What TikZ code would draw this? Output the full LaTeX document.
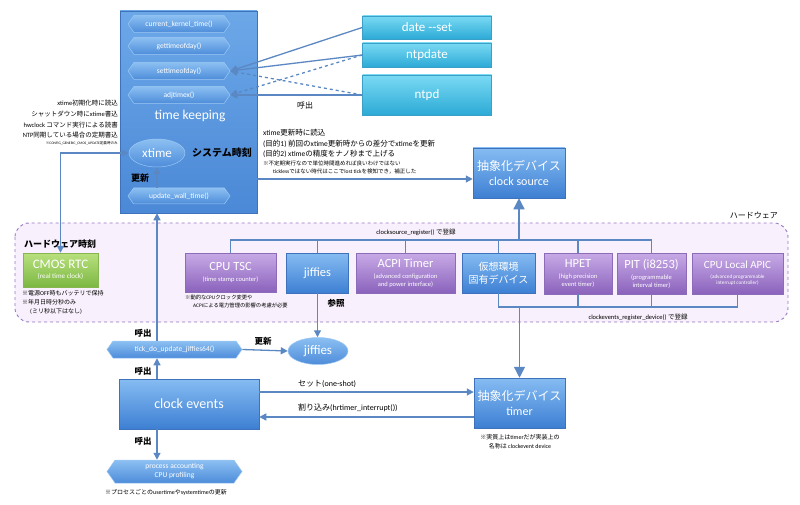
\documentclass[tikz,border=0pt]{standalone}
\usepackage{fontspec}
\setmainfont{Carlito}
\newfontfamily\jp{Noto Sans CJK JP}
\newcommand{\jj}[1]{{\jp #1}}
\usetikzlibrary{shapes.symbols,shapes.geometric,arrows.meta}
\definecolor{lnc}{HTML}{5B88C2}
\definecolor{bT}{HTML}{86BCF2}
\definecolor{bB}{HTML}{3D7FD3}
\definecolor{bD}{HTML}{3E73BC}
\definecolor{tkT}{HTML}{6CA8E8}
\definecolor{tkB}{HTML}{4B88D6}
\definecolor{hxT}{HTML}{8CC0F2}
\definecolor{hxB}{HTML}{4D8CDA}
\definecolor{hxD}{HTML}{9CC8F4}
\definecolor{cyT}{HTML}{7ADAF4}
\definecolor{cyB}{HTML}{2CAAD6}
\definecolor{cyD}{HTML}{3AA0C8}
\definecolor{puT}{HTML}{C8AAE6}
\definecolor{puB}{HTML}{8A62BC}
\definecolor{puD}{HTML}{8C6CB8}
\definecolor{grT}{HTML}{B8E07E}
\definecolor{grB}{HTML}{7DB843}
\definecolor{grD}{HTML}{86B552}
\definecolor{hwF}{HTML}{F8F0FC}
\definecolor{hwD}{HTML}{9278C4}
\tikzset{
  ln/.style={draw=lnc, line width=1.3pt},
  arr/.style={ln, -{Triangle[length=7pt,width=7pt]}},
  bigarr/.style={ln, -{Triangle[length=11pt,width=11pt]}},
  hexn/.style={signal, signal from=nowhere, signal to=east and west, signal pointer angle=110,
    draw=hxD, line width=0.5pt, top color=hxT, bottom color=hxB, text=white,
    font=\fontsize{7.5}{9}\selectfont, inner sep=0pt, align=center},
  bbox/.style={rectangle, draw=bD, line width=0.5pt, top color=bT, bottom color=bB, text=white, align=center, inner sep=0pt},
  cbox/.style={rectangle, draw=cyD, line width=0.5pt, top color=cyT, bottom color=cyB, text=white, align=center, inner sep=0pt, font=\fontsize{13}{15}\selectfont},
  pbox/.style={rectangle, draw=puD, line width=0.5pt, top color=puT, bottom color=puB, text=white, align=center, inner sep=0pt, font=\fontsize{6.5}{8}\selectfont},
  gbox/.style={rectangle, draw=grD, line width=0.5pt, top color=grT, bottom color=grB, text=white, align=center, inner sep=0pt, font=\fontsize{7}{8.5}\selectfont},
  ell/.style={ellipse, draw=hxD, line width=0.5pt, top color=hxT, bottom color=hxB, text=white, inner sep=0pt, font=\fontsize{13}{15}\selectfont},
  big/.style={font=\fontsize{12.5}{14}\selectfont},
  lbl/.style={font=\fontsize{8}{10}\selectfont, inner sep=0pt},
  note/.style={font=\fontsize{6}{7}\selectfont, inner sep=0pt},
}
\begin{document}
\begin{tikzpicture}[x=1pt,y=-1pt]
\useasboundingbox (0,0) rectangle (800,505);
% hardware region
\draw[draw=hwD, fill=hwF, dashed, line width=0.9pt, rounded corners=14pt] (15,223) rectangle (788,322);
\node[lbl, anchor=east] (hwl) at (778,215) {\jj{ハードウェア}};

% time keeping box
\node[rectangle, draw=bD, line width=0.5pt, top color=tkT, bottom color=tkB, minimum width=137pt, minimum height=202pt] (tk) at (188.5,112) {};
\node[hexn, minimum width=102pt, minimum height=17pt] (ckt) at (179,24) {current\_kernel\_time()};
\node[hexn, minimum width=102pt, minimum height=17pt] (gtod) at (179,46) {gettimeofday()};
\node[hexn, minimum width=102pt, minimum height=17pt] (stod) at (179,71) {settimeofday()};
\node[hexn, minimum width=102pt, minimum height=17pt] (adj) at (179,95) {adjtimex()};
\node[text=white, font=\fontsize{13.5}{15}\selectfont, inner sep=0pt] (tkl) at (190,116) {time keeping};
\node[ell, minimum width=56pt, minimum height=28pt] (xtime) at (157,153) {xtime};
\node[font=\fontsize{10}{12}\selectfont\bfseries, inner sep=0pt] (sys) at (222,153) {\jj{システム時刻}};
\node[lbl, font=\fontsize{9}{11}\selectfont\bfseries] (upd1) at (140,178) {\jj{更新}};
\node[hexn, minimum width=102pt, minimum height=16pt] (uwt) at (179,196) {update\_wall\_time()};
\draw[arr] (uwt.north -| xtime) -- (xtime.south);

% top right
\node[cbox, minimum width=129pt, minimum height=23pt] (date) at (427,27.5) {date -{}-set};
\node[cbox, minimum width=129pt, minimum height=24pt] (ntpdate) at (427,55) {ntpdate};
\node[cbox, minimum width=129pt, minimum height=40pt] (ntpd) at (427,95) {ntpd};
\draw[arr] (date.west) -- (stod.east);
\draw[arr] (ntpdate.west) -- (stod.east);
\draw[arr, dashed] (ntpd.west) -- (stod.east);
\draw[arr, dashed] (ntpdate.west) -- (adj.east);
\draw[arr] (ntpd.west) -- (adj.east);
\node[lbl] (call0) at (305,105) {\jj{呼出}};

% left notes
\node[note, font=\fontsize{6.5}{8}\selectfont, anchor=east] (n1) at (118,103) {xtime\jj{初期化時に読込}};
\node[note, font=\fontsize{6.5}{8}\selectfont, anchor=east] (n2) at (118,114) {\jj{シャットダウン時に}xtime\jj{書込}};
\node[note, font=\fontsize{6.5}{8}\selectfont, anchor=east] (n3) at (118,125) {hwclock \jj{コマンド実行による読書}};
\node[note, font=\fontsize{6.5}{8}\selectfont, anchor=east] (n4) at (118,135) {NTP\jj{同期している場合の定期書込}};
\node[note, font=\fontsize{3.6}{4}\selectfont, anchor=east] (n5) at (118,143) {\jj{※}CONFIG\_GENERIC\_CMOS\_UPDATE\jj{定義時のみ}};

% CMOS RTC
\node[lbl, font=\fontsize{9}{11}\selectfont\bfseries, anchor=west] (hwt) at (24,244) {\jj{ハードウェア時刻}};
\node[gbox, minimum width=75pt, minimum height=34pt] (cmos) at (60.5,270) {{\fontsize{13}{14}\selectfont CMOS RTC}\\[2pt](real time clock)};
\node[note, anchor=west] (c1) at (22,293) {\jj{※電源}OFF\jj{時もバッテリで保持}};
\node[note, anchor=west] (c2) at (22,302) {\jj{※年月日時分秒のみ}};
\node[note, anchor=west] (c3) at (30,311) {(\jj{ミリ秒以下はなし})};
\draw[ln, {Triangle[length=7pt,width=7pt]}-{Triangle[length=7pt,width=7pt]}] (cmos.north) |- (xtime.west);

% hardware devices
\node[pbox, minimum width=91pt, minimum height=39pt] (tsc) at (230.5,272.5) {{\fontsize{12.5}{14}\selectfont CPU TSC}\\[3pt](time stamp counter)};
\node[bbox, minimum width=62pt, minimum height=40pt, big] (jbox) at (317.5,273) {jiffies};
\node[pbox, minimum width=99pt, minimum height=40pt] (acpi) at (405.5,273) {{\fontsize{12.5}{14}\selectfont ACPI Timer}\\[3pt](advanced configuration\\and power interface)};
\node[bbox, minimum width=73pt, minimum height=40pt, font=\fontsize{10}{13}\selectfont] (virt) at (498.5,273) {\jj{仮想環境}\\\jj{固有デバイス}};
\node[pbox, minimum width=68pt, minimum height=41pt] (hpet) at (578,273.5) {{\fontsize{12.5}{14}\selectfont HPET}\\[3pt](high precision\\event timer)};
\node[pbox, minimum width=69pt, minimum height=41pt] (pit) at (651.5,273.5) {{\fontsize{12.5}{14}\selectfont PIT (i8253)}\\[3pt](programmable\\interval timer)};
\node[pbox, minimum width=91pt, minimum height=41pt, font=\fontsize{5.2}{6.5}\selectfont] (apic) at (737.5,273.5) {{\fontsize{11}{13}\selectfont CPU Local APIC}\\[3pt](advanced programmable\\interrupt controller)};
\node[note, font=\fontsize{5.3}{6}\selectfont, anchor=west] (t1) at (185,297) {\jj{※動的な}CPU\jj{クロック変更や}};
\node[note, font=\fontsize{5.3}{6}\selectfont, anchor=west] (t2) at (193,305) {ACPI\jj{による電力管理の影響の考慮が必要}};
\node[lbl, font=\fontsize{8.5}{10}\selectfont\bfseries] (ref) at (336,303) {\jj{参照}};

% clock source
\node[bbox, minimum width=92pt, minimum height=50pt, font=\fontsize{12}{15}\selectfont] (cs) at (519,173) {\jj{抽象化デバイス}\\clock source};
\coordinate (bus) at (0,240);
\draw[ln] (tsc.north) |- (pit.north |- bus) -- (pit.north);
\draw[ln] (jbox.north) -- (jbox.north |- bus);
\draw[ln] (acpi.north) -- (acpi.north |- bus);
\draw[ln] (virt.north) -- (virt.north |- bus);
\draw[ln] (hpet.north) -- (hpet.north |- bus);
\draw[bigarr] (cs.south |- bus) -- (cs.south);
\node[note, font=\fontsize{6.5}{8}\selectfont] (csreg) at (416,232) {clocksource\_register() \jj{で登録}};
\draw[arr] (tk.east |- 0,179) -- (cs.west |- 0,179);
\node[note, font=\fontsize{7.5}{9}\selectfont, anchor=west] (m1) at (263,133) {xtime\jj{更新時に読込}};
\node[note, font=\fontsize{7.5}{9}\selectfont, anchor=west] (m2) at (263,144) {(\jj{目的}1) \jj{前回の}xtime\jj{更新時からの差分で}xtime\jj{を更新}};
\node[note, font=\fontsize{7.5}{9}\selectfont, anchor=west] (m3) at (263,154) {(\jj{目的}2) xtime\jj{の精度をナノ秒まで上げる}};
\node[note, font=\fontsize{5.5}{7}\selectfont, anchor=west] (m4) at (263,163) {\jj{※不定期実行なので単位時間進めれば良いわけではない}};
\node[note, font=\fontsize{5.5}{7}\selectfont, anchor=west] (m5) at (273,171) {tickless\jj{ではない時代はここで}lost tick\jj{を検知でき，補正した}};

% clock events bus
\node[bbox, minimum width=91pt, minimum height=50pt, font=\fontsize{12}{15}\selectfont] (timer) at (519.5,403) {\jj{抽象化デバイス}\\timer};
\coordinate (bus2) at (0,307);
\draw[ln] (virt.south) |- (apic.south |- bus2) -- (apic.south);
\draw[ln] (hpet.south) -- (hpet.south |- bus2);
\draw[ln] (pit.south) -- (pit.south |- bus2);
\draw[bigarr] (timer.north |- bus2) -- (timer.north);
\node[note, font=\fontsize{6.5}{8}\selectfont] (cereg) at (638,317) {clockevents\_register\_device() \jj{で登録}};
\node[note] (tn1) at (520,437) {\jj{※実質上は}timer\jj{だが実装上の}};
\node[note] (tn2) at (520,446) {\jj{名称は} clockevent device};

% bottom
\node[hexn, minimum width=135pt, minimum height=17pt] (tick) at (174.5,349.5) {tick\_do\_update\_jiffies64()};
\node[ell, minimum width=60pt, minimum height=27pt] (jell) at (318,351) {jiffies};
\node[bbox, minimum width=140pt, minimum height=50pt, font=\fontsize{14}{16}\selectfont] (ce) at (189,404) {clock events};
\node[hexn, minimum width=135pt, minimum height=23pt, font=\fontsize{7.5}{9}\selectfont] (proc) at (174.5,471.5) {process accounting\\CPU profiling};
\node[note, anchor=west] (pn) at (105,492) {\jj{※プロセスごとの}usertime\jj{や}systemtime\jj{の更新}};
\draw[arr] (tick.north -| xtime) -- (tk.south -| xtime);
\draw[arr] (ce.north -| xtime) -- (tick.south -| xtime);
\draw[arr] (ce.south -| xtime) -- (proc.north -| xtime);
\draw[arr] (tick.east) -- (jell.west);
\draw[arr] (jbox.south) -- (jbox.south |- jell.north);
\draw[arr] (ce.east |- 0,392) -- (timer.west |- 0,392);
\draw[arr] (timer.west |- 0,417) -- (ce.east |- 0,417);
\node[lbl, anchor=west] (set) at (298,384) {\jj{セット}(one-shot)};
\node[lbl, anchor=west] (irq) at (298,408) {\jj{割り込み}(hrtimer\_interrupt())};
\node[lbl, font=\fontsize{8.5}{10}\selectfont\bfseries] (c1l) at (143,333) {\jj{呼出}};
\node[lbl, font=\fontsize{8.5}{10}\selectfont\bfseries] (c2l) at (143,371) {\jj{呼出}};
\node[lbl, font=\fontsize{8.5}{10}\selectfont\bfseries] (c3l) at (143,441) {\jj{呼出}};
\node[lbl, font=\fontsize{8.5}{10}\selectfont\bfseries] (upd2) at (263,341) {\jj{更新}};
\end{tikzpicture}
\end{document}
